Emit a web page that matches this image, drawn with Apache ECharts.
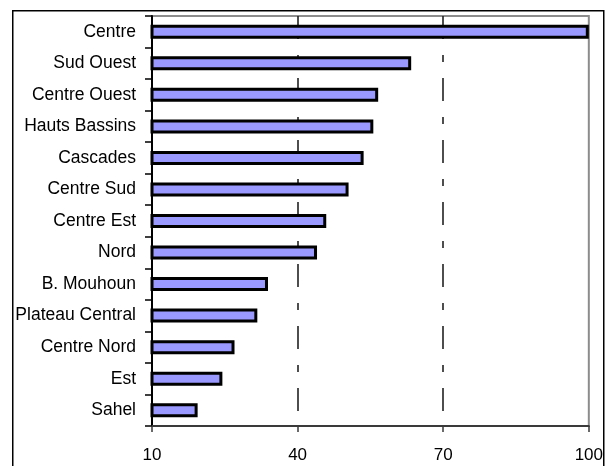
<!DOCTYPE html>
<html>
<head>
<meta charset="utf-8">
<script src="https://cdn.jsdelivr.net/npm/echarts@6/dist/echarts.min.js"></script>
<style>
  html, body { margin: 0; padding: 0; background: #fff; }
  #chart { width: 606px; height: 466px; }
</style>
</head>
<body>
<div id="chart"></div>
<script>
// Regions, listed top to bottom
const regions = [
  'Centre', 'Sud Ouest', 'Centre Ouest', 'Hauts Bassins', 'Cascades',
  'Centre Sud', 'Centre Est', 'Nord', 'B. Mouhoun', 'Plateau Central',
  'Centre Nord', 'Est', 'Sahel'
];
const values = [100, 63.4, 56.6, 55.6, 53.6, 50.5, 45.9, 44.0, 33.9, 31.7, 27.0, 24.5, 19.4];

// Value axis scale
const axisMin = 10;
const axisMax = 100;
const axisStep = 30;

const chart = echarts.init(document.getElementById('chart'), null, { renderer: 'canvas' });

const font = 'Liberation Sans, Arial, sans-serif';

chart.setOption({
  animation: false,
  backgroundColor: '#ffffff',
  grid: {
    left: 152, top: 16, right: 14, bottom: 40,
    show: true,
    borderColor: '#8c8c8c',
    borderWidth: 2,
    backgroundColor: 'transparent'
  },
  graphic: [{
    type: 'rect',
    left: 12, top: 10,
    shape: { x: 0, y: 0, width: 591, height: 480 },
    style: { fill: 'transparent', stroke: '#000', lineWidth: 1.5 },
    silent: true
  }],
  xAxis: {
    type: 'value',
    min: axisMin,
    max: axisMax,
    interval: axisStep,
    axisLine: { show: true, lineStyle: { color: '#3a3a3a', width: 2 } },
    axisTick: { show: true, length: 6, lineStyle: { color: '#3a3a3a', width: 1.5 } },
    axisLabel: {
      color: '#000', fontFamily: font, fontSize: 17, margin: 21
    },
    splitLine: {
      show: true,
      lineStyle: {
        color: ['transparent', '#222', '#222', 'transparent'],
        width: 1.6,
        type: [23, 16, 7, 16]
      }
    }
  },
  yAxis: {
    type: 'category',
    inverse: true,
    data: regions,
    axisLine: { show: true, lineStyle: { color: '#000', width: 2 } },
    axisTick: { show: true, length: 7, lineStyle: { color: '#000', width: 1.5 } },
    axisLabel: {
      color: '#000', fontFamily: font, fontSize: 17.5, margin: 16
    },
    splitLine: { show: false }
  },
  series: [{
    type: 'bar',
    data: values,
    barWidth: 14,
    itemStyle: {
      color: '#9999ff',
      borderColor: '#000',
      borderWidth: 3
    }
  }]
});
</script>
</body>
</html>
